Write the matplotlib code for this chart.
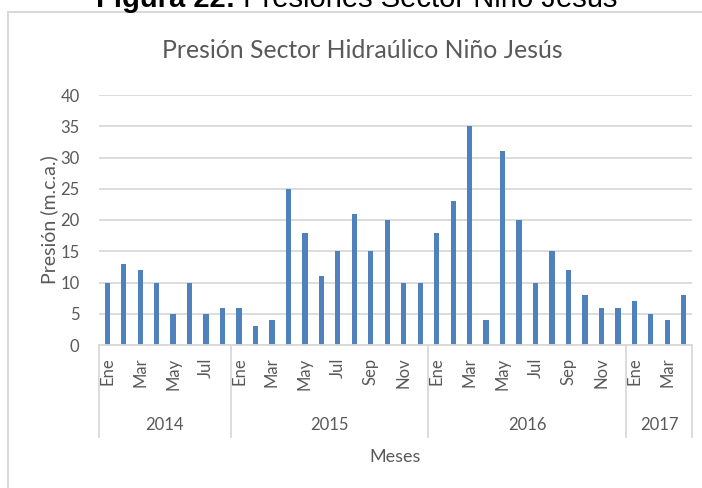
import matplotlib
matplotlib.use('Agg')
import matplotlib.pyplot as plt
import matplotlib.transforms as mtransforms
from matplotlib.patches import Rectangle

# datos
meses = ['Ene', 'Feb', 'Mar', 'Abr', 'May', 'Jun', 'Jul', 'Ago', 'Sep', 'Oct', 'Nov', 'Dic']
anios = ['2014', '2015', '2016', '2017']
presion_2014 = [10, 13, 12, 10, 5, 10, 5, 6]          # Ene - Ago
presion_2015 = [6, 3, 4, 25, 18, 11, 15, 21, 15, 20, 10, 10]
presion_2016 = [18, 23, 35, 4, 31, 20, 10, 15, 12, 8, 6, 6]
presion_2017 = [7, 5, 4, 8]                            # Ene - Abr

series = [presion_2014, presion_2015, presion_2016, presion_2017]

valores, etiquetas, grupos = [], [], []
for anio, datos in zip(anios, series):
    inicio = len(valores)
    for i, v in enumerate(datos):
        valores.append(v)
        etiquetas.append(meses[i] if i % 2 == 0 else '')
    grupos.append((anio, inicio, len(valores)))

gris_txt = '#595959'
gris_lin = '#d9d9d9'
azul = '#4f81bd'
fuente = ['Lato', 'DejaVu Sans']

W, H = 702, 488
fig = plt.figure(figsize=(W / 100, H / 100), dpi=100)

# marco del grafico
fig.patches.append(Rectangle((8 / W, -0.1), 1.0, 1 - 12 / H + 0.1,
                             transform=fig.transFigure, fill=False,
                             edgecolor=gris_lin, linewidth=1.5))

ax = fig.add_axes([99 / W, 143 / H, 593 / W, 250 / H])
x = list(range(len(valores)))
ax.bar(x, valores, width=0.32, color=azul, zorder=3)
ax.set_xlim(-0.5, len(valores) - 0.5)
ax.set_ylim(0, 40)
ax.set_yticks(range(0, 41, 5))
ax.yaxis.grid(True, color=gris_lin, linewidth=1.3, zorder=0)
for s in ax.spines.values():
    s.set_visible(False)
ax.axhline(0, color=gris_lin, linewidth=1.3, zorder=4, clip_on=False)
ax.tick_params(axis='y', length=0, pad=14, labelsize=12, labelcolor=gris_txt)
ax.set_xticks(x)
ax.set_xticklabels(etiquetas, rotation=90, fontsize=12, color=gris_txt,
                   family=fuente)
ax.tick_params(axis='x', length=0, pad=9)
for lbl in ax.get_yticklabels():
    lbl.set_family(fuente)

# eje de categorias por anio
trans = mtransforms.blended_transform_factory(ax.transData, ax.transAxes)
fondo = -(437 - 345) / 250
for anio, ini, fin in grupos:
    ax.plot([ini - 0.5, ini - 0.5], [0, fondo], color=gris_lin, lw=1.3,
            transform=trans, clip_on=False)
    ax.text((ini + fin - 1) / 2, -(425 - 345) / 250, anio, transform=trans,
            ha='center', va='center', fontsize=12, color=gris_txt, family=fuente)
ax.plot([len(valores) - 0.5] * 2, [0, fondo], color=gris_lin, lw=1.3,
        transform=trans, clip_on=False)

ax.set_ylabel('Presión (m.c.a.)', fontsize=14, color=gris_txt, family=fuente)
ax.yaxis.set_label_coords(-(99 - 58) / 593, (345 - 220) / 250)
ax.text(0.5, -(457 - 345) / 250, 'Meses', transform=ax.transAxes,
        ha='center', va='center', fontsize=13, color=gris_txt, family=fuente)

fig.text(362 / W, 1 - 50 / H, 'Presión Sector Hidraúlico Niño Jesús',
         ha='center', va='center', fontsize=17.8, color=gris_txt, family=fuente)

# encabezado de la figura (cortado arriba, como en el original)
fig.canvas.draw()
r = fig.canvas.get_renderer()
y_enc = 1 - 7 / H
t1 = fig.text(0, y_enc, 'Figura 22:', fontsize=21, weight='bold',
              family=['Liberation Sans'], va='baseline')
t2 = fig.text(0, y_enc, ' Presiones Sector Niño Jesús', fontsize=21,
              family=['Liberation Sans'], va='baseline')
w1 = t1.get_window_extent(r).width
w2 = t2.get_window_extent(r).width
x0 = 357 - (w1 + w2) / 2
t1.set_x(x0 / W)
t2.set_x((x0 + w1) / W)

fig.savefig('out.png', dpi=100)
